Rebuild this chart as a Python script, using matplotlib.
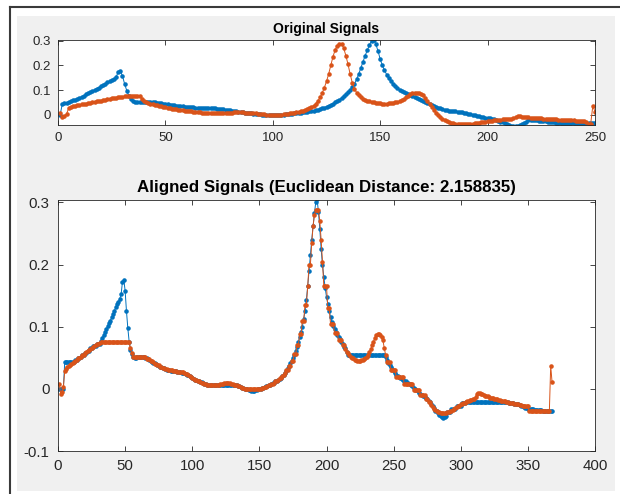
import matplotlib
matplotlib.use("Agg")
import matplotlib.pyplot as plt
import numpy as np
from matplotlib.lines import Line2D
from matplotlib.patches import Rectangle

SIG_X = [
    0.000, 0.043, 0.046, 0.049, 0.052, 0.055, 0.058, 0.061, 0.065, 0.069,
    0.073, 0.077, 0.082, 0.087, 0.091, 0.096, 0.101, 0.106, 0.110, 0.115,
    0.120, 0.126, 0.131, 0.136, 0.140, 0.145, 0.152, 0.172, 0.176, 0.158,
    0.125, 0.098, 0.076, 0.063, 0.056, 0.052, 0.050, 0.050, 0.051, 0.051,
    0.052, 0.052, 0.052, 0.051, 0.050, 0.049, 0.048, 0.047, 0.045, 0.044,
    0.042, 0.041, 0.040, 0.038, 0.037, 0.036, 0.035, 0.034, 0.033, 0.032,
    0.031, 0.030, 0.030, 0.029, 0.029, 0.028, 0.028, 0.028, 0.027, 0.027,
    0.027, 0.026, 0.026, 0.025, 0.024, 0.023, 0.022, 0.021, 0.019, 0.018,
    0.016, 0.015, 0.013, 0.012, 0.011, 0.009, 0.008, 0.007, 0.006, 0.005,
    0.004, 0.003, 0.002, 0.001, 0.000, -0.001, -0.002, -0.002, -0.003, -0.003,
    -0.003, -0.002, -0.002, -0.001, 0.000, 0.001, 0.002, 0.003, 0.004, 0.005,
    0.006, 0.007, 0.008, 0.009, 0.010, 0.012, 0.013, 0.015, 0.016, 0.018,
    0.020, 0.023, 0.026, 0.029, 0.033, 0.037, 0.041, 0.045, 0.050, 0.055,
    0.061, 0.068, 0.075, 0.083, 0.091, 0.100, 0.112, 0.125, 0.143, 0.165,
    0.190, 0.215, 0.240, 0.262, 0.283, 0.300, 0.305, 0.285, 0.258, 0.225,
    0.200, 0.180, 0.163, 0.148, 0.136, 0.125, 0.116, 0.108, 0.102, 0.096,
    0.091, 0.087, 0.083, 0.080, 0.076, 0.072, 0.068, 0.065, 0.060, 0.055,
    0.051, 0.046, 0.042, 0.038, 0.035, 0.032, 0.029, 0.026, 0.023, 0.020,
    0.019, 0.017, 0.016, 0.014, 0.013, 0.012, 0.010, 0.009, 0.008, 0.006,
    0.004, 0.002, 0.000, -0.002, -0.004, -0.006, -0.008, -0.010, -0.012, -0.013,
    -0.015, -0.017, -0.019, -0.021, -0.025, -0.028, -0.031, -0.035, -0.039, -0.042,
    -0.044, -0.046, -0.047, -0.046, -0.043, -0.038, -0.033, -0.028, -0.022, -0.021,
    -0.021, -0.022, -0.023, -0.024, -0.025, -0.026, -0.027, -0.028, -0.029, -0.030,
    -0.031, -0.032, -0.033, -0.033, -0.033, -0.033, -0.034, -0.034, -0.034, -0.034,
    -0.034, -0.034, -0.035, -0.035, -0.035, -0.035, -0.035, -0.035, -0.035, -0.035,
]

# signal 2 (orange)
SIG_Y = [
    0.008, -0.008, -0.005, 0.003, 0.028, 0.032, 0.035, 0.037, 0.039, 0.040,
    0.042, 0.044, 0.045, 0.047, 0.049, 0.050, 0.052, 0.054, 0.055, 0.057,
    0.059, 0.061, 0.062, 0.064, 0.066, 0.068, 0.069, 0.071, 0.072, 0.073,
    0.074, 0.075, 0.075, 0.076, 0.076, 0.076, 0.076, 0.075, 0.065, 0.057,
    0.052, 0.048, 0.045, 0.043, 0.040, 0.038, 0.036, 0.034, 0.032, 0.030,
    0.028, 0.027, 0.025, 0.024, 0.022, 0.021, 0.019, 0.018, 0.016, 0.015,
    0.014, 0.013, 0.012, 0.011, 0.010, 0.009, 0.008, 0.008, 0.007, 0.007,
    0.006, 0.006, 0.006, 0.006, 0.006, 0.006, 0.007, 0.007, 0.008, 0.008,
    0.008, 0.009, 0.009, 0.009, 0.009, 0.009, 0.008, 0.008, 0.007, 0.007,
    0.006, 0.005, 0.004, 0.003, 0.002, 0.001, 0.000, 0.000, -0.001, -0.001,
    -0.001, -0.001, 0.000, 0.000, 0.001, 0.002, 0.003, 0.005, 0.006, 0.008,
    0.010, 0.012, 0.014, 0.017, 0.020, 0.023, 0.026, 0.031, 0.037, 0.045,
    0.056, 0.070, 0.088, 0.110, 0.135, 0.165, 0.200, 0.235, 0.262, 0.280,
    0.288, 0.288, 0.270, 0.240, 0.205, 0.165, 0.130, 0.105, 0.090, 0.078,
    0.070, 0.064, 0.060, 0.057, 0.055, 0.052, 0.050, 0.049, 0.047, 0.046,
    0.045, 0.045, 0.045, 0.046, 0.047, 0.048, 0.050, 0.052, 0.055, 0.059,
    0.064, 0.070, 0.076, 0.082, 0.086, 0.088, 0.089, 0.087, 0.083, 0.078,
    0.066, 0.055, 0.043, 0.031, 0.019, 0.008, -0.002, -0.010, -0.016, -0.021,
    -0.026, -0.029, -0.032, -0.034, -0.036, -0.037, -0.038, -0.039, -0.039, -0.039,
    -0.038, -0.037, -0.036, -0.035, -0.034, -0.032, -0.031, -0.029, -0.028, -0.027,
    -0.025, -0.024, -0.023, -0.022, -0.021, -0.020, -0.019, -0.018, -0.018, -0.017,
    -0.017, -0.013, -0.009, -0.007, -0.007, -0.008, -0.009, -0.010, -0.011, -0.012,
    -0.012, -0.013, -0.014, -0.015, -0.015, -0.016, -0.017, -0.017, -0.018, -0.018,
    -0.019, -0.019, -0.020, -0.020, -0.021, -0.021, -0.022, -0.022, -0.023, -0.023,
    -0.024, -0.024, -0.025, -0.025, -0.026, -0.028, -0.036, -0.036, 0.037, 0.011,
]

TOP_TITLE = "Original Signals"
BOTTOM_TITLE = "Aligned Signals (Euclidean Distance: 2.158835)"
TOP_XTICKS = [0, 50, 100, 150, 200, 250]
TOP_YTICKS = [0, 0.1, 0.2, 0.3]
BOT_XTICKS = [0, 50, 100, 150, 200, 250, 300, 350, 400]
BOT_YTICKS = [-0.1, 0, 0.1, 0.2, 0.3]

BLUE = "#0072BD"
ORANGE = "#D95319"
AX_COLOR = "#262626"
W, H = 620, 494


def dtw_path(a, b):
    """Plain DTW with |a-b| cost; returns the index pairs of the warping path."""
    n, m = len(a), len(b)
    cost = np.abs(a[:, None] - b[None, :])
    acc = np.full((n + 1, m + 1), np.inf)
    acc[0, 0] = 0.0
    for i in range(1, n + 1):
        for j in range(1, m + 1):
            acc[i, j] = cost[i - 1, j - 1] + min(acc[i - 1, j - 1], acc[i - 1, j], acc[i, j - 1])
    i, j = n, m
    ix, iy = [], []
    while i > 0 and j > 0:
        ix.append(i - 1)
        iy.append(j - 1)
        k = int(np.argmin([acc[i - 1, j - 1], acc[i - 1, j], acc[i, j - 1]]))
        if k == 0:
            i, j = i - 1, j - 1
        elif k == 1:
            i -= 1
        else:
            j -= 1
    return np.array(ix[::-1]), np.array(iy[::-1])


def frac(x0, y0, x1, y1):
    """pixel box (from top-left) -> figure fraction [left, bottom, width, height]"""
    return [x0 / W, 1 - y1 / H, (x1 - x0) / W, (y1 - y0) / H]


def style_axes(ax, fs, pad):
    ax.set_facecolor("white")
    for sp in ax.spines.values():
        sp.set_color(AX_COLOR)
        sp.set_linewidth(0.6)
    ax.tick_params(direction="in", top=True, right=True, length=3.5, width=0.6,
                   colors=AX_COLOR, labelsize=fs, labelcolor=AX_COLOR, pad=pad)
    ax.xaxis.set_major_formatter(matplotlib.ticker.FuncFormatter(lambda v, p: f"{v:g}"))
    ax.yaxis.set_major_formatter(matplotlib.ticker.FuncFormatter(lambda v, p: f"{v:g}"))


def main():
    plt.rcParams["font.family"] = ["Liberation Sans", "DejaVu Sans"]
    x = np.array(SIG_X)
    y = np.array(SIG_Y)
    ix, iy = dtw_path(x, y)

    fig = plt.figure(figsize=(W / 100, H / 100), dpi=100, facecolor="white")
    fig.add_artist(Rectangle((17 / W, 1 - 491 / H), 598 / W, 475 / H,
                             transform=fig.transFigure, facecolor="#f0f0f0",
                             edgecolor="none", zorder=0))
    fig.add_artist(Line2D([9.5 / W, 9.5 / W], [0, 1 - 7.5 / H], transform=fig.transFigure,
                          color="#3a3a3a", lw=1.5, zorder=1))
    fig.add_artist(Line2D([9.5 / W, 1], [1 - 7.5 / H, 1 - 7.5 / H], transform=fig.transFigure,
                          color="#3a3a3a", lw=1.5, zorder=1))

    # top panel: original signals
    ax1 = fig.add_axes(frac(58, 39.5, 595, 125.3))
    ax1.plot(np.arange(1, len(x) + 1), x, ".-", color=BLUE, lw=0.7, ms=4.5)
    ax1.plot(np.arange(1, len(y) + 1), y, ".-", color=ORANGE, lw=0.7, ms=4.5)
    ax1.set_xlim(0, 250)
    ax1.set_ylim(min(x.min(), y.min()) + 0.004, max(x.max(), y.max()))
    ax1.set_xticks(TOP_XTICKS)
    ax1.set_yticks(TOP_YTICKS)
    style_axes(ax1, 9.5, 5)
    ax1.set_title(TOP_TITLE, fontsize=10, fontweight="bold", pad=5, color="black")

    # bottom panel: signals warped along the DTW path
    ax2 = fig.add_axes(frac(58, 200, 595, 451))
    k = np.arange(1, len(ix) + 1)
    ax2.plot(k, x[ix], ".-", color=BLUE, lw=0.7, ms=4.5)
    ax2.plot(k, y[iy], ".-", color=ORANGE, lw=0.7, ms=4.5)
    ax2.set_xlim(0, 400)
    ax2.set_ylim(-0.1, 0.304)
    ax2.set_xticks(BOT_XTICKS)
    ax2.set_yticks(BOT_YTICKS)
    style_axes(ax2, 10.8, 6)
    ax2.set_title(BOTTOM_TITLE, fontsize=12.2, fontweight="bold", pad=5.5, color="black")

    fig.savefig("out.png", dpi=100, facecolor="white")
    plt.close(fig)


if __name__ == "__main__":
    main()
